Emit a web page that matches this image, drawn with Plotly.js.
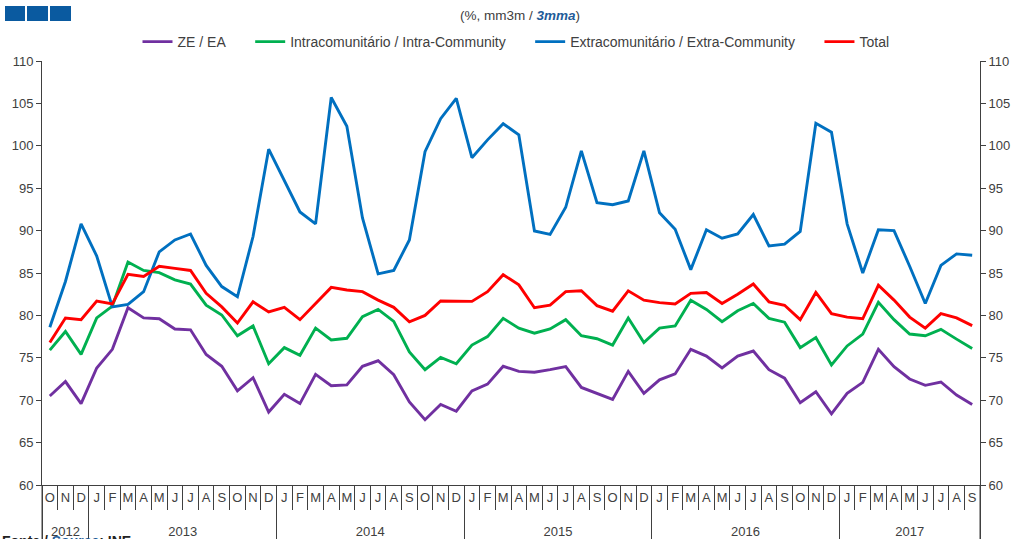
<!DOCTYPE html>
<html>
<head>
<meta charset="utf-8">
<script src="https://cdn.plot.ly/plotly-3.0.1.min.js"></script>
<style>
  html, body { margin: 0; padding: 0; background: #fff; }
  #chart { width: 1016px; height: 539px; }
</style>
</head>
<body>
<div id="chart"></div>
<script>
// Categories
const years = ['2012','2012','2012',
  '2013','2013','2013','2013','2013','2013','2013','2013','2013','2013','2013','2013',
  '2014','2014','2014','2014','2014','2014','2014','2014','2014','2014','2014','2014',
  '2015','2015','2015','2015','2015','2015','2015','2015','2015','2015','2015','2015',
  '2016','2016','2016','2016','2016','2016','2016','2016','2016','2016','2016','2016',
  '2017','2017','2017','2017','2017','2017','2017','2017','2017'];
const months = ['O','N','D',
  'J','F','M','A','M','J','J','A','S','O','N','D',
  'J','F','M','A','M','J','J','A','S','O','N','D',
  'J','F','M','A','M','J','J','A','S','O','N','D',
  'J','F','M','A','M','J','J','A','S','O','N','D',
  'J','F','M','A','M','J','J','A','S'];

// Series values (%, 3mma)
const zeEA = [70.5,72.2,69.6,73.8,76.0,80.9,79.7,79.6,78.4,78.3,75.4,74.0,71.1,72.65,68.6,
  70.7,69.6,73.05,71.7,71.8,74.0,74.65,73.0,69.8,67.7,69.5,68.7,
  71.1,71.9,74.0,73.4,73.3,73.6,73.95,71.5,70.8,70.1,73.4,70.8,
  72.4,73.1,76.0,75.2,73.8,75.2,75.8,73.6,72.6,69.7,71.0,68.4,
  70.8,72.1,76.0,73.95,72.5,71.75,72.15,70.6,69.5];
const intra = [75.9,78.1,75.4,79.7,81.1,86.3,85.3,85.05,84.2,83.7,81.2,80.05,77.6,78.75,74.3,
  76.2,75.3,78.5,77.1,77.3,79.85,80.7,79.3,75.7,73.6,75.05,74.3,
  76.5,77.5,79.65,78.5,77.9,78.4,79.5,77.6,77.25,76.5,79.7,76.8,
  78.5,78.75,81.8,80.7,79.25,80.55,81.4,79.65,79.2,76.2,77.4,74.15,
  76.4,77.8,81.55,79.5,77.8,77.6,78.35,77.2,76.1];
const extra = [78.6,84.0,90.8,87.0,81.0,81.3,82.8,87.5,88.9,89.6,85.9,83.4,82.2,89.3,99.6,
  95.8,92.2,90.8,105.7,102.3,91.5,84.9,85.3,88.9,99.3,103.2,105.6,
  98.6,100.7,102.6,101.3,89.95,89.55,92.75,99.4,93.3,93.05,93.5,99.4,
  92.1,90.15,85.4,90.1,89.1,89.6,91.9,88.2,88.4,89.9,102.65,101.6,
  90.8,85.0,90.1,90.0,85.8,81.4,85.9,87.25,87.1];
const total = [76.8,79.7,79.5,81.7,81.35,84.85,84.6,85.8,85.55,85.3,82.6,81.0,79.1,81.6,80.4,
  80.95,79.5,81.4,83.3,83.0,82.8,81.8,80.95,79.25,80.0,81.7,81.7,
  81.65,82.8,84.8,83.6,80.9,81.2,82.8,82.9,81.15,80.5,82.9,81.8,
  81.5,81.35,82.6,82.7,81.4,82.5,83.7,81.6,81.2,79.5,82.7,80.2,
  79.8,79.6,83.55,81.8,79.8,78.5,80.2,79.7,78.8];

const seriesNames = ['ZE / EA','Intracomunitário / Intra-Community','Extracomunitário / Extra-Community','Total'];
const seriesColors = ['#7030A0','#00B050','#0070C0','#FF0000'];
const seriesData = [zeEA, intra, extra, total];

// Month letters repeat (J, M, A); invisible suffixes keep each month a distinct category
// in chronological order, and a blank second line pushes the year row lower.
const monthCats = months.map((m, i) => {
  let n = 0;
  for (let j = i - 1; j >= 0 && years[j] === years[i]; j--) if (months[j] === m) n++;
  const mark = years[i] === years[0] ? '\u200C' : '';
  return m + mark + '\u200B'.repeat(n) + '<br>\u00A0';
});

const pad = '\u00A0\u00A0\u00A0\u00A0\u00A0';
const traces = seriesData.map((vals, k) => ({
  x: [years, monthCats],
  y: vals,
  name: seriesNames[k] + (k < 3 ? pad : ''),
  type: 'scatter',
  mode: 'lines',
  line: {color: seriesColors[k], width: 2.9},
  hoverinfo: 'skip'
}));
// invisible copy on the right-hand axis so it is drawn
traces.push({
  x: [years, monthCats], y: total, yaxis: 'y2', mode: 'lines',
  line: {width: 0, color: 'rgba(0,0,0,0)'}, opacity: 0, showlegend: false, hoverinfo: 'skip'
});

const axisFont = {family: 'Liberation Sans, Arial, sans-serif', size: 13, color: '#404040'};
const W = 938, H = 424;

const layout = {
  width: 1016, height: 539,
  margin: {l: 42, r: 36, t: 61, b: 54},
  paper_bgcolor: '#ffffff', plot_bgcolor: '#ffffff',
  font: {family: 'Liberation Sans, Arial, sans-serif', size: 13, color: '#404040'},
  showlegend: true,
  legend: {
    orientation: 'h', x: (516 - 42) / W, xanchor: 'center', y: 1 + (61 - 42) / H, yanchor: 'middle',
    font: {family: 'Liberation Sans, Arial, sans-serif', size: 14, color: '#404040'},
    itemwidth: 30, traceorder: 'normal', bgcolor: 'rgba(0,0,0,0)'
  },
  xaxis: {
    type: 'multicategory', range: [-0.5, months.length - 0.5], autorange: false,
    tickmode: 'linear', tick0: 0, dtick: 1, tickangle: 0,
    showgrid: false, zeroline: false,
    showline: true, linecolor: '#404040', linewidth: 1,
    ticks: 'outside', tickson: 'boundaries', ticklen: 24, tickcolor: '#404040', tickwidth: 1,
    showdividers: true, dividercolor: '#404040', dividerwidth: 1,
    tickfont: axisFont, fixedrange: true
  },
  yaxis: {
    range: [60, 110], dtick: 5, tick0: 60, showgrid: false, zeroline: false,
    showline: true, linecolor: '#404040', linewidth: 1,
    ticks: 'outside', ticklen: 5, tickcolor: '#404040', tickfont: axisFont, fixedrange: true
  },
  yaxis2: {
    range: [60, 110], dtick: 5, tick0: 60, overlaying: 'y', side: 'right', showgrid: false, zeroline: false,
    showline: true, linecolor: '#404040', linewidth: 1,
    ticks: 'outside', ticklen: 5, tickcolor: '#404040', tickfont: axisFont, fixedrange: true
  },
  shapes: [
    {type: 'rect', xref: 'paper', yref: 'paper', x0: -37/W, x1: -17/W, y0: 1 + 40/H, y1: 1 + 55/H, fillcolor: '#0A5AA0', line: {width: 0}},
    {type: 'rect', xref: 'paper', yref: 'paper', x0: -15/W, x1: 6/W, y0: 1 + 40/H, y1: 1 + 55/H, fillcolor: '#0A5AA0', line: {width: 0}},
    {type: 'rect', xref: 'paper', yref: 'paper', x0: 8/W, x1: 29/W, y0: 1 + 40/H, y1: 1 + 55/H, fillcolor: '#0A5AA0', line: {width: 0}},
    {type: 'line', xref: 'paper', yref: 'paper', x0: 0, x1: 0, y0: 0, y1: -54/H, line: {color: '#404040', width: 1}},
    {type: 'line', xref: 'paper', yref: 'paper', x0: 1, x1: 1, y0: 0, y1: -54/H, line: {color: '#404040', width: 1}}
  ],
  annotations: [
    {text: '(%, mm3m / <b><i><span style="color:#1F5C99">3mma</span></i></b>)', xref: 'paper', yref: 'paper',
     x: (520-42)/W, y: 1 + (61-15)/H, xanchor: 'center', yanchor: 'middle', showarrow: false,
     font: {family: 'Liberation Sans, Arial, sans-serif', size: 13.5, color: '#404040'}},
    {text: '<b>Fonte / <span style="color:#1F5C99">Source</span>: INE</b>', xref: 'paper', yref: 'paper',
     x: -42/W, y: -(531-485)/H, xanchor: 'left', yanchor: 'top', showarrow: false,
     font: {family: 'Liberation Sans, Arial, sans-serif', size: 14, color: '#222'}}
  ]
};

Plotly.newPlot('chart', traces, layout, {displayModeBar: false, staticPlot: true});
</script>
</body>
</html>
